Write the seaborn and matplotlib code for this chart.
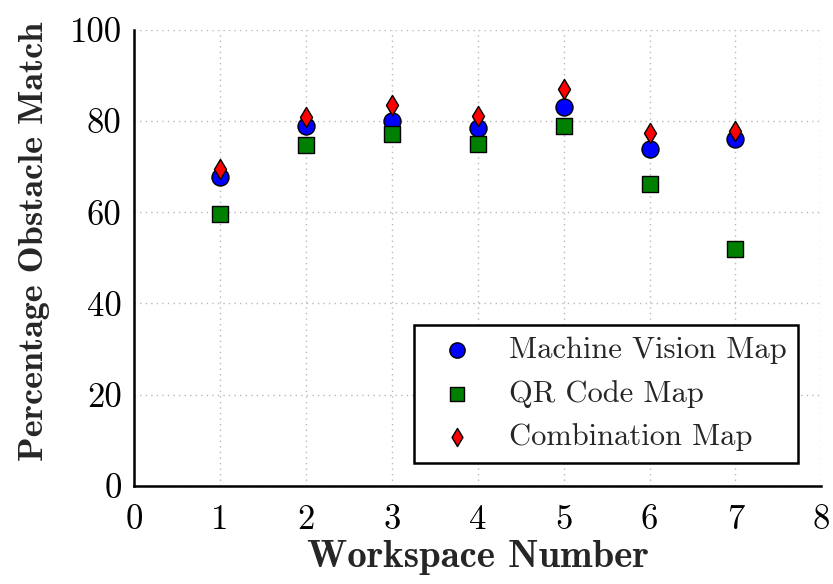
import matplotlib
matplotlib.use("Agg")
import matplotlib.pyplot as plt
import seaborn as sns
import pandas as pd

# Obstacle match per workspace for each map type
workspaces = [1, 2, 3, 4, 5, 6, 7]
machine_vision = [67.8, 78.8, 80.1, 78.4, 83.0, 73.8, 76.0]
qr_code = [59.7, 74.7, 77.1, 75.0, 78.9, 66.1, 52.0]
combination = [69.5, 80.8, 83.4, 81.1, 87.0, 77.3, 77.8]

series_names = ["Machine Vision Map", "QR Code Map", "Combination Map"]
series_values = [machine_vision, qr_code, combination]
x_ticks = [0, 1, 2, 3, 4, 5, 6, 7, 8]
y_ticks = [0, 20, 40, 60, 80, 100]

rows = []
for name, vals in zip(series_names, series_values):
    for w, v in zip(workspaces, vals):
        rows.append({"Workspace": w, "Match": v, "Map": name})
df = pd.DataFrame(rows)

sns.set_style("white")
plt.rcParams["axes.unicode_minus"] = False
plt.rcParams["font.family"] = ["cmr10", "DejaVu Serif"]

fig = plt.figure(figsize=(8.33, 5.84), dpi=100)
ax = fig.add_axes([0.161, 0.168, 0.825, 0.781])

palette = {"Machine Vision Map": "#0000ff", "QR Code Map": "#008000",
           "Combination Map": "#ff0000"}
markers = {"Machine Vision Map": "o", "QR Code Map": "s", "Combination Map": "d"}
sizes = {"Machine Vision Map": 150, "QR Code Map": 140, "Combination Map": 105}

for name in series_names:
    sub = df[df["Map"] == name]
    sns.scatterplot(data=sub, x="Workspace", y="Match", color=palette[name],
                    marker=markers[name], s=sizes[name], edgecolor="black",
                    linewidth=1.0, label=name, ax=ax, zorder=3)

ax.set_xlim(0, 8)
ax.set_ylim(0, 100)
ax.set_xticks(x_ticks)
ax.set_yticks(y_ticks)
ax.grid(True, linestyle=(0, (1, 3)), color="#b8b8b8", linewidth=1.0)

for side in ["top", "right"]:
    ax.spines[side].set_visible(False)
for side in ["left", "bottom"]:
    ax.spines[side].set_visible(True)
    ax.spines[side].set_color("black")
    ax.spines[side].set_linewidth(1.8)

ax.tick_params(axis="both", direction="in", length=6, width=1.2,
               labelsize=25, colors="black")
ax.tick_params(axis="x", pad=13)
ax.tick_params(axis="y", pad=9)
for lbl in ax.get_xticklabels() + ax.get_yticklabels():
    lbl.set_family(["cmr10", "DejaVu Serif"])

ax.set_xlabel("Workspace Number", fontsize=28, family=["cmb10", "DejaVu Serif"],
              labelpad=3)
ax.set_ylabel("Percentage Obstacle Match", fontsize=26,
              family=["cmb10", "DejaVu Serif"])
ax.yaxis.set_label_coords(-0.122, 0.535)

leg = ax.legend(loc="lower right", frameon=True, fancybox=False,
                prop={"family": ["cmr10", "DejaVu Serif"], "size": 22},
                borderpad=0.4, handletextpad=0.7, labelspacing=0.5,
                borderaxespad=0.75, edgecolor="black", framealpha=1,
                markerscale=0.9)
leg.get_frame().set_linewidth(1.8)

fig.savefig("out.png", dpi=100)
